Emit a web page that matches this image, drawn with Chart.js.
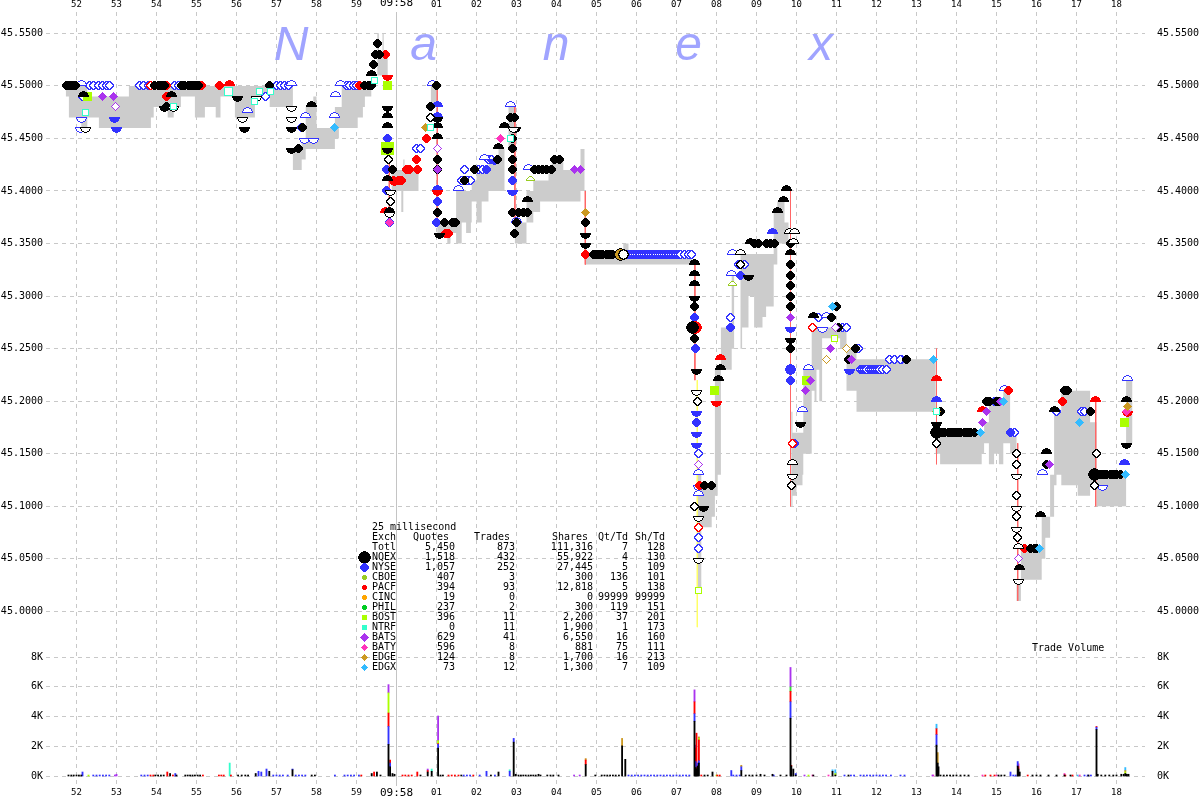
<!DOCTYPE html>
<html>
<head>
<meta charset="utf-8">
<title>Nanex</title>
<script src="https://cdn.jsdelivr.net/npm/chart.js@4/dist/chart.umd.min.js"></script>
<style>
  html, body { margin: 0; padding: 0; background: #fff; }
  canvas { display: block; }
</style>
</head>
<body>
<canvas id="nanexChart" width="1200" height="800"></canvas>
<script>
/* ── Axis ticks ─────────────────────────────────────────────*/
const secondTicks = [52, 53, 54, 55, 56, 57, 58, 59, 60, 61, 62, 63, 64, 65, 66, 67, 68, 69, 70, 71, 72, 73, 74, 75, 76, 77, 78];
const secondLabels = ["52", "53", "54", "55", "56", "57", "58", "59", "09:58", "01", "02", "03", "04", "05", "06", "07", "08", "09", "10", "11", "12", "13", "14", "15", "16", "17", "18"];
const priceTicks = [45.00, 45.05, 45.10, 45.15, 45.20, 45.25, 45.30, 45.35, 45.40, 45.45, 45.50, 45.55];
const volumeTicks = [0, 2000, 4000, 6000, 8000];

/* ── Stats table ────────────────────────────────────────────*/
const tableExch = ["Totl", "NQEX", "NYSE", "CBOE", "PACF", "CINC", "PHIL", "BOST", "NTRF", "BATS", "BATY", "EDGE", "EDGX"];
const tableQuotes = ["5,450", "1,518", "1,057", "407", "394", "19", "237", "396", "0", "629", "596", "124", "73"];
const tableTrades = ["873", "432", "252", "3", "93", "0", "2", "11", "11", "41", "8", "8", "12"];
const tableShares = ["111,316", "55,922", "27,445", "300", "12,818", "0", "300", "2,200", "1,900", "6,550", "881", "1,700", "1,300"];
const tableQtTd = ["7", "4", "5", "136", "5", "99999", "119", "37", "1", "16", "75", "16", "7"];
const tableShTd = ["128", "130", "109", "101", "138", "99999", "151", "201", "173", "160", "111", "213", "109"];

/* ── NBBO band: time, upper, lower (step) ───────────────────*/
const bandTimes = [51.73, 51.81, 52.12, 52.27, 52.56, 53.31, 53.86, 53.93, 54.28, 54.43, 54.61, 54.96, 55.21, 55.48, 55.6, 55.96, 56.46, 56.83, 57.41, 57.63, 57.73, 57.92, 58.0, 58.46, 58.56, 58.63, 59.03, 59.16, 59.21, 59.37, 59.52, 59.56, 59.65, 59.68, 59.78, 59.88, 60.12, 60.17, 60.2, 60.55, 60.86, 61.02, 61.27, 61.35, 61.49, 61.63, 61.74, 61.86, 61.88, 62.0, 62.13, 62.3, 62.55, 62.7, 62.8, 62.96, 63.25, 63.42, 63.59, 63.8, 63.88, 64.17, 64.6, 64.7, 64.71, 65.67, 65.8, 67.38, 67.53, 67.62, 67.88, 67.96, 68.03, 68.11, 68.38, 68.44, 68.6, 68.64, 68.8, 68.94, 69.15, 69.24, 69.43, 69.52, 69.7, 69.8, 69.87, 69.9, 70.0, 70.15, 70.17, 70.38, 70.45, 70.5, 70.57, 70.64, 71.09, 71.25, 71.5, 73.48, 73.59, 74.63, 74.69, 74.81, 74.94, 75.06, 75.17, 75.34, 75.5, 75.61, 76.13, 76.22, 76.34, 76.44, 76.5, 76.62, 77.03, 77.34, 77.5, 78.24, 78.4];
const bandUpper = [45.50, 45.50, 45.50, 45.49, 45.49, 45.50, 45.50, 45.50, 45.50, 45.50, 45.50, 45.50, 45.50, 45.50, 45.50, 45.50, 45.50, 45.50, 45.44, 45.45, 45.48, 45.49, 45.46, 45.48, 45.48, 45.50, 45.50, 45.50, 45.50, 45.50, 45.55, 45.53, 45.55, 45.53, 45.40, 45.42, 45.42, 45.43, 45.42, 45.40, 45.50, 45.37, 45.37, 45.37, 45.40, 45.40, 45.40, 45.40, 45.41, 45.42, 45.42, 45.43, 45.44, 45.40, 45.48, 45.37, 45.40, 45.41, 45.41, 45.42, 45.43, 45.42, 45.44, 45.34, 45.34, 45.35, 45.34, 45.20, 45.13, 45.12, 45.12, 45.23, 45.23, 45.27, 45.32, 45.30, 45.34, 45.34, 45.34, 45.34, 45.34, 45.34, 45.38, 45.39, 45.37, 45.30, 45.19, 45.17, 45.17, 45.17, 45.23, 45.27, 45.27, 45.27, 45.27, 45.27, 45.27, 45.25, 45.24, 45.17, 45.17, 45.17, 45.18, 45.20, 45.20, 45.20, 45.21, 45.17, 45.03, 45.06, 45.09, 45.09, 45.13, 45.19, 45.19, 45.21, 45.21, 45.18, 45.13, 45.22, 45.10];
const bandLower = [45.49, 45.47, 45.46, 45.47, 45.46, 45.46, 45.47, 45.48, 45.47, 45.48, 45.49, 45.47, 45.48, 45.47, 45.49, 45.47, 45.49, 45.48, 45.42, 45.43, 45.44, 45.44, 45.44, 45.45, 45.46, 45.46, 45.47, 45.48, 45.49, 45.50, 45.51, 45.51, 45.51, 45.51, 45.40, 45.40, 45.38, 45.40, 45.40, 45.40, 45.48, 45.36, 45.35, 45.36, 45.35, 45.37, 45.36, 45.37, 45.39, 45.37, 45.39, 45.40, 45.40, 45.40, 45.44, 45.35, 45.37, 45.38, 45.39, 45.39, 45.39, 45.39, 45.40, 45.34, 45.33, 45.33, 45.33, 45.20, 45.02, 45.08, 45.09, 45.11, 45.13, 45.23, 45.25, 45.30, 45.25, 45.27, 45.30, 45.27, 45.28, 45.29, 45.33, 45.35, 45.35, 45.30, 45.10, 45.11, 45.12, 45.13, 45.15, 45.21, 45.20, 45.23, 45.20, 45.26, 45.25, 45.21, 45.19, 45.15, 45.14, 45.15, 45.16, 45.14, 45.15, 45.14, 45.16, 45.15, 45.01, 45.03, 45.05, 45.07, 45.09, 45.12, 45.13, 45.12, 45.11, 45.12, 45.10, 45.16, 45.10];

/* ── Thin trade-through lines: time, top, bottom ────────────*/
const wickTimes = [61.02, 62.96, 64.72, 67.46, 67.52, 69.85, 73.5, 75.53, 77.48, 59.82];
const wickTop = [45.50, 45.48, 45.40, 45.33, 45.22, 45.40, 45.25, 45.16, 45.20, 45.44];
const wickBottom = [45.37, 45.37, 45.33, 45.22, 44.985, 45.10, 45.14, 45.01, 45.10, 45.37];
const wickColors = ["#ff6666", "#ff6666", "#ff6666", "#ff6666", "#ffff66", "#ff6666", "#ff6666", "#ff6666", "#ff6666", "#ff6666"];

/* ── Quote / trade marks: [second, price] ───────────────────*/
const openBlueRing = [[52.33,45.5],[52.43,45.5],[52.54,45.5],[52.65,45.5],[52.75,45.5],[52.83,45.5],[52.15,45.49],[53.58,45.5],[53.68,45.5],[53.79,45.5],[54.46,45.5],[54.54,45.5],[56.73,45.49],[57.0,45.5],[57.1,45.5],[57.2,45.5],[57.3,45.5],[57.63,45.46],[58.75,45.5],[58.83,45.5],[58.92,45.5],[59.0,45.5],[60.5,45.44],[60.6,45.44],[61.63,45.41],[61.71,45.42],[61.77,45.41],[61.86,45.41],[62.05,45.42],[62.15,45.42],[62.3,45.43],[62.38,45.43],[65.75,45.34],[65.8,45.34],[65.84,45.34],[65.88,45.34],[65.93,45.34],[65.98,45.34],[66.02,45.34],[66.07,45.34],[66.11,45.34],[66.16,45.34],[66.2,45.34],[66.25,45.34],[66.29,45.34],[66.33,45.34],[66.38,45.34],[66.42,45.34],[66.47,45.34],[66.51,45.34],[66.56,45.34],[66.6,45.34],[66.65,45.34],[66.7,45.34],[66.74,45.34],[66.79,45.34],[66.83,45.34],[66.88,45.34],[66.92,45.34],[66.97,45.34],[67.01,45.34],[67.05,45.34],[67.1,45.34],[67.2,45.34],[67.3,45.34],[67.38,45.34],[67.55,45.15],[67.55,45.07],[67.55,45.06],[68.35,45.28],[68.55,45.33],[68.71,45.33],[69.25,45.35],[70.55,45.28],[71.15,45.27],[71.25,45.27],[71.55,45.25],[71.6,45.23],[71.65,45.23],[71.7,45.23],[71.76,45.23],[71.82,45.23],[71.87,45.23],[71.92,45.23],[71.98,45.23],[72.03,45.23],[72.08,45.23],[72.16,45.23],[72.25,45.23],[72.32,45.24],[72.45,45.24],[72.62,45.24],[72.6,45.24],[74.95,45.20],[75.46,45.17],[76.5,45.19],[76.65,45.20],[77.13,45.19],[77.2,45.19]];
const openBlueUp = [[52.12,45.50],[56.27,45.475],[57.375,45.50],[57.73,45.47],[58.48,45.49],[58.46,45.47],[58.6,45.50],[60.9,45.50],[61.56,45.40],[62.2,45.43],[62.85,45.48],[63.0,45.37],[63.3,45.42],[67.55,45.13],[67.55,45.11],[68.38,45.32],[68.4,45.34],[70.15,45.19],[70.31,45.23],[70.75,45.28],[75.2,45.21],[76.16,45.13],[78.28,45.22]];
const openBlueDown = [[52.13,45.47],[52.1,45.46],[57.71,45.45],[57.93,45.45],[67.55,45.12],[70.65,45.27],[77.65,45.12]];
const blueDown = [[52.96,45.47],[53.0,45.46],[62.46,45.43],[62.9,45.40],[67.5,45.19],[67.5,45.17],[67.5,45.16],[69.84,45.27],[69.84,45.23],[71.33,45.23]];
const blueUp = [[61.02,45.48],[61.02,45.47],[61.02,45.40],[69.41,45.36],[69.84,45.23],[73.49,45.20],[78.21,45.14]];
const blueDots = [[59.78,45.45],[59.75,45.42],[59.75,45.40],[59.82,45.37],[61.02,45.39],[61.0,45.37],[62.24,45.42],[62.9,45.41],[67.44,45.28],[67.48,45.25],[68.34,45.27],[68.59,45.32],[69.84,45.22],[69.96,45.16],[75.34,45.17],[67.5,45.18]];
const redDots = [[54.25,45.50],[54.25,45.49],[55.12,45.50],[55.57,45.50],[59.07,45.50],[59.73,45.53],[59.92,45.41],[60.05,45.41],[60.13,45.41],[60.25,45.42],[60.33,45.42],[60.52,45.42],[60.49,45.43],[60.76,45.45],[61.3,45.36],[61.22,45.36],[64.72,45.34],[67.58,45.12],[75.3,45.21],[75.7,45.06],[76.65,45.20]];
const redBig = [[67.48,45.27]];
const redRing = [[53.85,45.5],[67.55,45.08],[69.9,45.16],[70.4,45.27]];
const redUp = [[55.83,45.50],[59.73,45.38],[68.09,45.24],[73.49,45.22],[74.65,45.19],[77.48,45.20]];
const redDown = [[59.78,45.51],[59.96,45.41],[61.02,45.40],[67.99,45.20],[78.28,45.19]];
const blackDots = [[51.75,45.5],[51.82,45.5],[51.9,45.5],[51.97,45.5],[53.96,45.5],[54.04,45.5],[54.12,45.5],[54.2,45.5],[54.62,45.5],[54.7,45.5],[54.79,45.5],[54.87,45.5],[54.95,45.5],[55.0,45.5],[55.04,45.5],[56.82,45.5],[59.21,45.5],[59.29,45.5],[59.37,45.5],[59.42,45.52],[59.48,45.53],[59.58,45.53],[59.52,45.54],[57.65,45.46],[57.54,45.44],[54.25,45.48],[59.9,45.42],[60.84,45.48],[61.0,45.5],[61.02,45.43],[61.02,45.42],[61.02,45.38],[61.2,45.37],[61.47,45.37],[61.4,45.37],[61.69,45.41],[61.96,45.42],[62.53,45.43],[62.85,45.47],[62.95,45.47],[62.9,45.45],[62.9,45.44],[62.9,45.43],[62.9,45.42],[62.9,45.38],[63.04,45.38],[63.17,45.38],[63.28,45.38],[63.0,45.37],[62.95,45.36],[63.46,45.42],[63.55,45.42],[63.65,45.42],[63.75,45.42],[63.88,45.42],[63.96,45.43],[64.07,45.43],[64.72,45.37],[64.92,45.34],[65.0,45.34],[65.08,45.34],[65.16,45.34],[65.24,45.34],[65.32,45.34],[65.4,45.34],[67.44,45.29],[67.46,45.26],[67.7,45.12],[67.88,45.12],[68.95,45.35],[69.04,45.35],[69.26,45.35],[69.35,45.35],[69.46,45.35],[69.84,45.35],[69.84,45.33],[69.84,45.32],[69.84,45.31],[69.84,45.30],[69.84,45.29],[69.84,45.25],[70.88,45.28],[71.0,45.29],[71.05,45.27],[71.47,45.25],[71.3,45.24],[72.75,45.24],[72.75,45.24],[73.59,45.19],[73.55,45.17],[73.63,45.17],[73.71,45.17],[73.79,45.17],[73.87,45.17],[73.95,45.17],[74.03,45.17],[74.11,45.17],[74.19,45.17],[74.27,45.17],[74.35,45.17],[74.46,45.17],[74.74,45.20],[74.82,45.20],[75.0,45.20],[75.08,45.20],[75.85,45.06],[75.95,45.06],[76.0,45.06],[76.25,45.14],[76.7,45.21],[76.78,45.21],[77.35,45.19],[77.6,45.13],[77.68,45.13],[77.76,45.13],[77.84,45.13],[77.92,45.13],[78.0,45.13],[78.1,45.13]];
const blackBig = [[67.4,45.27],[77.46,45.13],[73.5,45.17]];
const blackUp = [[52.17,45.49],[54.38,45.49],[57.875,45.48],[59.37,45.51],[59.78,45.47],[59.78,45.46],[59.78,45.41],[59.82,45.38],[61.02,45.46],[61.02,45.45],[62.55,45.44],[62.69,45.46],[63.28,45.39],[67.44,45.33],[67.44,45.32],[67.44,45.31],[68.06,45.22],[68.09,45.23],[68.84,45.35],[69.53,45.38],[69.68,45.39],[69.74,45.40],[69.84,45.34],[70.42,45.28],[76.1,45.09],[75.57,45.04],[76.45,45.19],[76.25,45.15],[78.25,45.20]];
const blackDown = [[56.03,45.49],[56.21,45.46],[57.375,45.46],[57.375,45.44],[54.2,45.48],[59.78,45.48],[59.78,45.44],[61.02,45.47],[61.08,45.36],[62.98,45.46],[64.72,45.36],[64.72,45.35],[67.44,45.30],[67.5,45.23],[67.68,45.10],[68.8,45.32],[69.84,45.26],[70.1,45.18],[73.49,45.18],[78.24,45.16]];
const openBlackRing = [[59.8,45.43],[59.85,45.39],[60.84,45.47],[67.52,45.20],[67.45,45.10],[68.6,45.33],[69.87,45.12],[73.5,45.16],[75.5,45.15],[75.5,45.14],[75.5,45.11],[75.5,45.09],[75.52,45.07],[77.5,45.15],[77.46,45.12]];
const openBlackUp = [[68.6,45.34],[69.82,45.36],[69.96,45.36],[69.92,45.35],[69.9,45.14],[75.55,45.06]];
const openBlackDown = [[52.22,45.46],[54.42,45.48],[56.5,45.49],[56.15,45.47],[57.375,45.48],[57.375,45.47],[59.85,45.40],[59.82,45.38],[62.92,45.46],[67.5,45.21],[67.55,45.09],[67.55,45.05],[69.9,45.13],[75.5,45.13],[75.5,45.10],[75.5,45.08],[75.55,45.03]];
const batsDiamonds = [[52.64,45.49],[52.92,45.49],[61.03,45.42],[64.45,45.42],[64.59,45.42],[69.84,45.28],[70.36,45.22],[70.22,45.21],[70.85,45.25],[71.38,45.24],[74.65,45.18],[74.74,45.19],[75.1,45.20],[76.32,45.14]];
const batsOpen = [[52.97,45.48],[61.02,45.44],[67.55,45.14],[70.98,45.27],[75.55,45.05]];
const batyDiamonds = [[59.83,45.37],[62.61,45.45],[78.26,45.19]];
const edgeDiamonds = [[60.73,45.46],[64.72,45.38],[73.5,45.19],[78.28,45.195]];
const edgeOpen = [[71.25,45.25],[70.74,45.24]];
const edgxDiamonds = [[58.44,45.46],[70.9,45.29],[73.42,45.24],[74.59,45.17],[75.17,45.20],[76.07,45.06],[77.07,45.18],[78.22,45.13]];
const bostSquares = [[52.28,45.49],[59.78,45.50],[67.96,45.21],[70.25,45.22],[78.21,45.18]];
const bostBig = [[59.78,45.44]];
const bostOpen = [[67.55,45.02],[70.96,45.26]];
const ntrfOpen = [[52.23,45.475],[54.43,45.48],[56.46,45.485],[56.58,45.495],[56.85,45.495],[59.46,45.505],[60.85,45.46],[62.84,45.45],[73.5,45.19]];
const ntrfBig = [[55.79,45.495]];
const cboeOpenUp = [[63.34,45.41],[68.39,45.31]];
const crossedGold = [[65.61,45.34]];
const crossedBlack = [[65.6,45.34]];
const crossedRing = [[65.68,45.34]];

/* ── Volume: [second, shares] per exchange ──────────────────*/
const volNqex = [[51.8,100],[51.87,100],[51.93,100],[52.0,100],[52.06,100],[52.12,100],[53.97,100],[54.04,100],[54.11,100],[54.18,100],[54.34,200],[54.5,100],[54.72,100],[54.78,100],[54.84,100],[54.9,100],[54.96,100],[55.03,100],[55.09,100],[56.04,100],[56.13,100],[56.22,100],[56.29,100],[56.48,200],[56.82,350],[57.4,450],[57.88,100],[57.96,100],[59.38,200],[59.51,300],[59.6,100],[59.8,2150],[59.84,650],[59.9,200],[59.95,150],[60.6,100],[60.78,300],[60.88,350],[61.04,1900],[61.1,100],[61.16,100],[61.62,100],[62.36,100],[62.55,300],[62.93,2300],[62.98,150],[63.05,100],[63.11,100],[63.17,100],[63.23,100],[63.3,100],[63.36,100],[63.42,100],[63.48,100],[63.55,150],[63.6,100],[63.77,100],[63.85,100],[63.92,100],[64.05,100],[64.73,800],[64.97,100],[65.13,100],[65.2,100],[65.27,100],[65.34,100],[65.41,100],[65.48,100],[65.56,100],[65.64,2050],[65.72,1150],[67.45,3700],[67.48,600],[67.5,500],[67.53,700],[67.56,900],[67.7,100],[67.78,100],[67.9,300],[68.62,400],[68.73,100],[68.82,100],[68.9,100],[69.0,100],[69.1,150],[69.2,100],[69.4,150],[69.6,100],[69.75,100],[69.85,3900],[69.87,700],[69.92,500],[69.98,100],[70.42,100],[70.9,350],[70.97,100],[71.3,100],[73.5,2100],[73.53,900],[73.55,650],[73.6,100],[73.68,100],[73.76,100],[73.84,100],[73.92,100],[74.0,100],[74.1,100],[74.2,100],[74.3,100],[75.05,100],[75.12,100],[75.2,100],[75.53,700],[75.55,500],[75.58,300],[75.9,100],[76.0,100],[76.1,100],[76.3,100],[76.5,100],[76.7,100],[76.85,100],[77.3,100],[77.5,3150],[77.53,150],[77.62,100],[77.72,100],[77.82,100],[77.92,100],[78.0,100],[78.12,150],[78.18,150],[78.22,200],[78.26,150],[78.3,150]];
const volNyse = [[52.15,300],[52.42,100],[52.5,100],[52.58,100],[52.66,100],[52.74,100],[52.82,100],[53.62,100],[53.7,100],[53.78,100],[54.47,200],[56.55,350],[56.62,300],[56.75,500],[56.92,100],[57.0,100],[57.08,100],[57.16,100],[57.28,100],[57.4,50],[57.48,100],[57.56,100],[57.64,100],[57.72,100],[58.46,100],[58.7,100],[58.78,100],[58.86,100],[58.94,100],[59.06,100],[59.8,1200],[59.84,250],[61.04,250],[61.68,100],[61.76,100],[61.84,100],[62.08,100],[62.25,350],[62.46,100],[62.83,350],[62.93,250],[65.8,100],[65.88,100],[65.96,100],[66.04,100],[66.12,100],[66.2,100],[66.28,100],[66.36,100],[66.44,100],[66.52,100],[66.6,100],[66.68,100],[66.76,100],[66.84,100],[66.92,100],[67.0,100],[67.08,100],[67.16,100],[67.24,100],[67.32,100],[67.45,500],[67.48,400],[67.53,200],[67.56,150],[68.37,400],[68.42,100],[68.5,100],[68.58,100],[68.62,250],[69.43,100],[69.85,1100],[69.98,100],[71.2,100],[71.36,100],[71.44,100],[71.6,100],[71.68,100],[71.76,100],[71.84,100],[71.92,100],[72.0,100],[72.08,100],[72.16,100],[72.24,100],[72.36,100],[72.6,100],[72.7,100],[73.5,700],[75.35,300],[75.42,100],[75.48,100],[75.53,300],[77.2,100],[77.28,100],[77.36,100],[77.5,150]];
const volPacf = [[53.85,100],[53.92,100],[54.27,300],[54.41,100],[55.16,100],[55.56,100],[55.62,100],[55.68,100],[55.86,100],[59.12,100],[59.44,300],[59.8,900],[59.84,200],[60.15,100],[60.22,100],[60.3,100],[60.38,100],[60.52,300],[60.78,100],[61.04,50],[61.3,100],[61.38,100],[61.46,100],[61.55,100],[61.92,100],[64.73,300],[67.45,800],[67.48,900],[67.5,2400],[67.56,1400],[67.62,100],[68.08,100],[68.02,100],[69.85,700],[69.87,50],[73.5,400],[74.72,100],[74.85,100],[74.95,100],[75.78,100],[76.72,100],[76.9,100],[77.5,50],[75.55,150]];
const volBost = [[52.3,100],[59.8,1350],[61.04,200],[67.56,100],[68.0,100],[70.3,100],[70.97,100],[78.22,100]];
const volPhil = [[69.85,300]];
const volNtrf = [[55.83,900],[60.88,150],[62.83,100]];
const volBats = [[52.96,100],[53.0,150],[59.8,550],[60.78,100],[61.04,1650],[64.44,100],[64.58,100],[67.45,800],[67.48,200],[69.85,1300],[70.2,100],[73.4,100]];
const volBaty = [[70.4,100],[70.8,100],[73.42,100],[74.65,100],[75.0,100],[75.55,200],[76.7,100],[77.08,100]];
const volEdge = [[64.73,100],[65.64,500],[67.56,100],[68.62,100],[73.53,700],[78.22,100]];
const volEdgx = [[70.9,100],[70.97,250],[73.5,300],[77.03,100],[78.22,200]];

const nanexLetters = ["N", "a", "n", "e", "x"];

/* ── Glyphs: bitmap marks used as point styles ──────────────*/
const masks = {
  disc: (x, y, r) => x * x + y * y <= r * r + 1,
  diamond: (x, y, r) => Math.abs(x) + Math.abs(y) <= r,
  square: (x, y, r) => Math.abs(x) <= r && Math.abs(y) <= r,
  up: (x, y, r) => y <= 0 && x * x + y * y <= r * r + 1,
  down: (x, y, r) => y >= 0 && x * x + y * y <= r * r + 1
};

function glyph(shape, r, fill, line) {
  const c = document.createElement("canvas");
  c.width = c.height = 2 * r + 1;
  const g = c.getContext("2d");
  const inside = (x, y) => masks[shape](x, y, r);
  for (let y = -r; y <= r; y++) {
    for (let x = -r; x <= r; x++) {
      if (!inside(x, y)) continue;
      let edge = !inside(x - 1, y) || !inside(x + 1, y) || !inside(x, y - 1) || !inside(x, y + 1);
      // rings read heavier than the half caps
      if (shape === "disc") edge = edge || !inside(x - 1, y - 1) || !inside(x + 1, y - 1) || !inside(x - 1, y + 1) || !inside(x + 1, y + 1);
      g.fillStyle = edge ? (line || fill) : fill;
      g.fillRect(x + r, y + r, 1, 1);
    }
  }
  return c;
}

const BLACK = "#000000", BLUE = "#3333ff", RED = "#ff0000", BATS = "#aa33ee", BATY = "#ff33bb";
const EDGE = "#cc9922", EDGX = "#33bbff", BOST = "#aaff00", NTRF = "#33ffcc", WHITE = "#ffffff";

// paint order: first entry goes underneath
const markLayers = [
  [openBlueRing, glyph("disc", 4, WHITE, BLUE)],
  [blueDots, glyph("disc", 4, BLUE)],
  [redRing, glyph("disc", 4, WHITE, RED)],
  [openBlueUp, glyph("up", 5, WHITE, BLUE)],
  [openBlueDown, glyph("down", 5, WHITE, BLUE)],
  [blueUp, glyph("up", 5, BLUE)],
  [blueDown, glyph("down", 5, BLUE)],
  [bostBig, glyph("square", 6, BOST)],
  [bostSquares, glyph("square", 4, BOST)],
  [bostOpen, glyph("square", 3, WHITE, BOST)],
  [redBig, glyph("disc", 6, RED)],
  [blackBig, glyph("disc", 6, BLACK)],
  [redDots, glyph("disc", 4, RED)],
  [redUp, glyph("up", 5, RED)],
  [redDown, glyph("down", 5, RED)],
  [blackDots, glyph("disc", 4, BLACK)],
  [blackUp, glyph("up", 5, BLACK)],
  [blackDown, glyph("down", 5, BLACK)],
  [openBlackRing, glyph("disc", 4, WHITE, BLACK)],
  [openBlackUp, glyph("up", 5, WHITE, BLACK)],
  [openBlackDown, glyph("down", 5, WHITE, BLACK)],
  [batsDiamonds, glyph("diamond", 4, BATS)],
  [batsOpen, glyph("diamond", 4, WHITE, BATS)],
  [batyDiamonds, glyph("diamond", 4, BATY)],
  [edgeDiamonds, glyph("diamond", 4, EDGE)],
  [edgeOpen, glyph("diamond", 4, WHITE, EDGE)],
  [edgxDiamonds, glyph("diamond", 4, EDGX)],
  [ntrfOpen, glyph("square", 3, WHITE, NTRF)],
  [ntrfBig, glyph("square", 4, WHITE, NTRF)],
  [cboeOpenUp, glyph("up", 4, WHITE, "#99cc22")],
  [crossedBlack, glyph("disc", 6, BLACK)],
  [crossedGold, glyph("disc", 5, EDGE)],
  [crossedRing, glyph("disc", 5, WHITE, BLACK)]
];

const volumeLayers = [
  [volNqex, BLACK], [volNyse, BLUE], [volPacf, RED], [volPhil, "#33dd33"],
  [volBost, BOST], [volNtrf, NTRF], [volBats, BATS], [volBaty, BATY], [volEdge, EDGE], [volEdgx, EDGX]
];

const tableGlyphs = [
  null, glyph("disc", 6, BLACK), glyph("disc", 4, BLUE), glyph("disc", 2, "#99cc22"), glyph("disc", 2, RED),
  glyph("disc", 2, "#ffa500"), glyph("disc", 2, "#00cc22"), glyph("square", 2, BOST), glyph("square", 2, NTRF),
  glyph("diamond", 4, BATS), glyph("diamond", 3, BATY), glyph("diamond", 3, EDGE), glyph("diamond", 3, EDGX)
];

/* ── Datasets ───────────────────────────────────────────────*/
const toXY = rows => rows.map(r => ({ x: r[0], y: r[1] }));
const datasets = [];

volumeLayers.forEach(([rows, color]) => {
  datasets.push({
    type: "bar", yAxisID: "v", stack: "vol", data: toXY(rows),
    backgroundColor: color, barThickness: 1.2, order: 900
  });
});

markLayers.forEach(([rows, img], i) => {
  datasets.push({
    type: "scatter", yAxisID: "y", data: toXY(rows),
    pointStyle: img, pointRadius: 5, showLine: false, order: 500 - i
  });
});

wickTimes.forEach((t, i) => {
  datasets.push({
    type: "line", yAxisID: "y", data: [{ x: t, y: wickTop[i] }, { x: t, y: wickBottom[i] }],
    borderColor: wickColors[i], borderWidth: 1, pointRadius: 0, order: 600
  });
});

// 09:58 minute line
datasets.push({
  type: "line", yAxisID: "y", data: [{ x: 60, y: 45.58 }, { x: 60, y: 44.97 }],
  borderColor: "#c4c4c4", borderWidth: 1, pointRadius: 0, order: 800
});
datasets.push({
  type: "line", yAxisID: "v", data: [{ x: 60, y: 9600 }, { x: 60, y: -700 }],
  borderColor: "#c4c4c4", borderWidth: 1, pointRadius: 0, order: 800
});

datasets.push({
  type: "line", yAxisID: "y", data: bandTimes.map((t, i) => ({ x: t, y: bandUpper[i] })),
  stepped: true, borderWidth: 0, pointRadius: 0, fill: "+1", backgroundColor: "#cccccc", order: 700
});
datasets.push({
  type: "line", yAxisID: "y", data: bandTimes.map((t, i) => ({ x: t, y: bandLower[i] })),
  stepped: true, borderWidth: 0, pointRadius: 0, fill: false, order: 701
});

/* ── Title + table overlay ──────────────────────────────────*/
const overlayPlugin = {
  id: "overlay",
  beforeDraw(chart) { chart.ctx.imageSmoothingEnabled = false; },
  afterDatasetsDraw(chart) {
    const ctx = chart.ctx;
    ctx.save();
    ctx.fillStyle = "#a0a4ff";
    ctx.font = "italic 48px 'Liberation Sans'";
    ctx.textBaseline = "alphabetic";
    ctx.textAlign = "center";
    nanexLetters.forEach((ch, i) => ctx.fillText(ch, 291 + i * 132.5, 60));

    ctx.fillStyle = "#000";
    ctx.font = "10px 'DejaVu Sans Mono'";
    ctx.textBaseline = "middle";
    ctx.textAlign = "left";
    ctx.fillText("25 millisecond", 372, 527);
    ctx.fillText("Exch", 372, 537);
    ctx.fillText("Trade Volume", 1032, 648);
    ctx.textAlign = "right";
    [["Quotes", 449], ["Trades", 510], ["Shares", 588], ["Qt/Td", 628], ["Sh/Td", 665]].forEach(([h, x]) => ctx.fillText(h, x, 537));
    tableExch.forEach((name, i) => {
      const y = 547 + i * 10;
      ctx.textAlign = "left";
      ctx.fillText(name, 372, y);
      ctx.textAlign = "right";
      ctx.fillText(tableQuotes[i], 455, y);
      ctx.fillText(tableTrades[i], 515, y);
      ctx.fillText(tableShares[i], 593, y);
      ctx.fillText(tableQtTd[i], 628, y);
      ctx.fillText(tableShTd[i], 665, y);
      if (tableGlyphs[i]) {
        const g = tableGlyphs[i];
        ctx.drawImage(g, Math.round(364 - g.width / 2), Math.round(y - g.height / 2));
      }
    });
    ctx.restore();
  }
};

/* ── Scales ─────────────────────────────────────────────────*/
function fixedTicks(list) {
  return scale => { scale.ticks = list.map(v => ({ value: v })); };
}
const monoFont = { family: "'DejaVu Sans Mono'", size: 10 };
const secondLabel = v => secondLabels[secondTicks.indexOf(v)] ?? "";
const priceLabel = v => v.toFixed(4);
const volumeLabel = v => (v / 1000) + "K";

// labels may not push the plot area in: the fit is fixed by hand
function noPadding(s) {
  s.paddingTop = s.paddingBottom = s.paddingLeft = s.paddingRight = 0;
}

function xAxis(position, height, gridOn, pad) {
  return {
    type: "linear", position, min: 51.2375, max: 78.7125, offset: false,
    afterBuildTicks: fixedTicks(secondTicks),
    afterFit: s => { s.height = height; noPadding(s); },
    border: { display: false, dash: [4, 4] },
    grid: { display: gridOn, color: "#c8c8c8", drawTicks: false, offset: false },
    ticks: {
      autoSkip: false, maxRotation: 0, padding: pad, color: "#000", callback: secondLabel,
      font: c => ({ family: "'DejaVu Sans Mono'", size: c.tick && c.tick.value === 60 ? 11 : 9 })
    }
  };
}

function yAxis(position, stack, weight, min, max, list, fmt, gridOn, pad, wide) {
  return {
    type: "linear", position, stack, stackWeight: weight, min, max,
    afterBuildTicks: fixedTicks(list),
    afterFit: s => { s.width = wide; noPadding(s); },
    border: { display: false, dash: [4, 4] },
    grid: { display: gridOn, color: "#c8c8c8", drawTicks: false },
    ticks: { autoSkip: false, padding: pad, color: "#000", font: monoFont, callback: fmt }
  };
}

const P_MIN = 44.9785, P_MAX = 45.5703, V_MIN = -636, V_MAX = 9540;

new Chart(document.getElementById("nanexChart"), {
  data: { datasets },
  plugins: [overlayPlugin],
  options: {
    responsive: false, animation: false, devicePixelRatio: 1, events: [],
    layout: { padding: 0 },
    interaction: { mode: null },
    plugins: { legend: { display: false }, tooltip: { enabled: false }, title: { display: false } },
    scales: {
      x: xAxis("bottom", 14, true, 1),
      xTop: xAxis("top", 12, false, 2),
      v: Object.assign(yAxis("left", "L", 152, V_MIN, V_MAX, volumeTicks, volumeLabel, true, 3, 46), { stacked: true }),
      y: yAxis("left", "L", 622, P_MIN, P_MAX, priceTicks, priceLabel, true, 3, 46),
      yRight: yAxis("right", "R", 622, P_MIN, P_MAX, priceTicks, priceLabel, false, 12, 55),
      vRight: yAxis("right", "R", 152, V_MIN, V_MAX, volumeTicks, volumeLabel, false, 12, 55)
    }
  }
});
</script>
</body>
</html>
